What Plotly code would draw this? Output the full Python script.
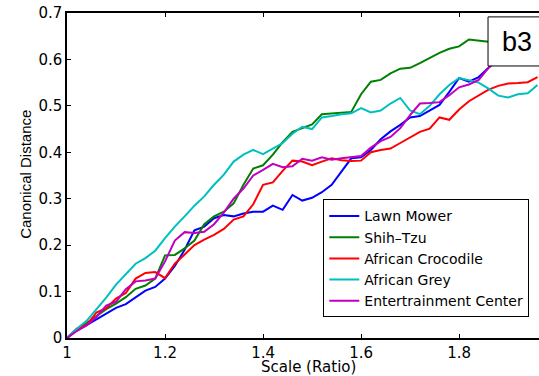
import plotly.graph_objects as go

scale = [round(1.0 + 0.02 * i, 2) for i in range(49)]

lawn_mower = [0, 0.017, 0.028, 0.04, 0.052, 0.065, 0.073, 0.087, 0.102, 0.11,
              0.128, 0.155, 0.19, 0.232, 0.24, 0.258, 0.265, 0.262, 0.268, 0.272,
              0.272, 0.285, 0.276, 0.308, 0.296, 0.302, 0.314, 0.33, 0.358, 0.387,
              0.389, 0.405, 0.428, 0.445, 0.459, 0.475, 0.478, 0.49, 0.502, 0.53,
              0.56, 0.552, 0.562, 0.582, 0.6, 0.61, 0.62, 0.625, 0.63]
shih_tzu = [0, 0.018, 0.032, 0.048, 0.062, 0.074, 0.088, 0.106, 0.113, 0.128,
            0.178, 0.179, 0.193, 0.21, 0.245, 0.262, 0.272, 0.29, 0.33, 0.365,
            0.372, 0.395, 0.422, 0.444, 0.452, 0.46, 0.482, 0.484, 0.486, 0.487,
            0.525, 0.552, 0.556, 0.57, 0.58, 0.582, 0.592, 0.603, 0.614, 0.623,
            0.628, 0.643, 0.641, 0.638, 0.64, 0.645, 0.65, 0.655, 0.66]
african_crocodile = [0, 0.02, 0.028, 0.055, 0.064, 0.085, 0.097, 0.128, 0.14, 0.142,
                     0.129, 0.16, 0.18, 0.2, 0.212, 0.222, 0.235, 0.255, 0.262, 0.288,
                     0.33, 0.335, 0.36, 0.382, 0.38, 0.372, 0.38, 0.387, 0.383, 0.381,
                     0.382, 0.4, 0.405, 0.408, 0.42, 0.432, 0.444, 0.451, 0.475, 0.47,
                     0.492, 0.51, 0.523, 0.535, 0.543, 0.548, 0.549, 0.551, 0.562]
african_grey = [0, 0.02, 0.037, 0.062, 0.087, 0.115, 0.138, 0.16, 0.172, 0.188,
                0.215, 0.24, 0.262, 0.285, 0.305, 0.33, 0.352, 0.38, 0.395, 0.405,
                0.396, 0.408, 0.42, 0.44, 0.455, 0.45, 0.475, 0.478, 0.482, 0.484,
                0.495, 0.486, 0.49, 0.505, 0.517, 0.49, 0.482, 0.5, 0.525, 0.545,
                0.56, 0.555, 0.55, 0.537, 0.522, 0.518, 0.525, 0.527, 0.545]
entertainment_center = [0, 0.015, 0.027, 0.045, 0.07, 0.078, 0.105, 0.122, 0.124, 0.128,
                        0.165, 0.21, 0.228, 0.226, 0.229, 0.245, 0.27, 0.3, 0.322, 0.35,
                        0.362, 0.375, 0.368, 0.37, 0.386, 0.382, 0.389, 0.384, 0.387, 0.39,
                        0.392, 0.41, 0.424, 0.433, 0.452, 0.48, 0.505, 0.506, 0.508, 0.523,
                        0.54, 0.546, 0.556, 0.582, 0.6, 0.61, 0.615, 0.62, 0.625]

series_names = ["Lawn Mower", "Shih\u2013Tzu", "African Crocodile", "African Grey",
                "Entertrainment Center"]
series_values = [lawn_mower, shih_tzu, african_crocodile, african_grey, entertainment_center]
series_colors = ["#0000ff", "#008000", "#ff0000", "#00bfbf", "#bf00bf"]

x_ticks = [1, 1.2, 1.4, 1.6, 1.8]
x_tick_labels = ["1", "1.2", "1.4", "1.6", "1.8"]
y_ticks = [0, 0.1, 0.2, 0.3, 0.4, 0.5, 0.6, 0.7]
y_tick_labels = ["0", "0.1", "0.2", "0.3", "0.4", "0.5", "0.6", "0.7"]

WIDE = "DejaVu Sans, Verdana, sans-serif"
NARROW = "Liberation Sans, Arial, Helvetica, sans-serif"

fig = go.Figure()
for name, vals, col in zip(series_names, series_values, series_colors):
    fig.add_trace(go.Scatter(x=scale, y=vals, mode="lines", name=name,
                             line=dict(color=col, width=2)))

fig.update_layout(
    width=539, height=376,
    margin=dict(l=67, r=0, t=13, b=38, autoexpand=False),
    paper_bgcolor="white", plot_bgcolor="white",
    font=dict(family=WIDE, size=14, color="black"),
    showlegend=True,
    legend=dict(x=0.543, y=0.245, xanchor="left", yanchor="middle",
                bgcolor="white", bordercolor="black", borderwidth=1,
                font=dict(family=WIDE, size=14, color="black"),
                tracegroupgap=0),
)
fig.update_xaxes(range=[1, 1.963], tickvals=x_ticks, ticktext=x_tick_labels,
                 automargin=False, ticklabeloverflow="allow",
                 showgrid=False, zeroline=False, showline=True, linecolor="black",
                 linewidth=1.5, mirror="allticks", ticks="inside", ticklen=4,
                 tickcolor="black", tickfont=dict(family=WIDE, size=15))
fig.update_yaxes(range=[0, 0.7], tickvals=y_ticks, ticktext=y_tick_labels,
                 automargin=False, ticklabeloverflow="allow",
                 showgrid=False, zeroline=False, showline=True, linecolor="black",
                 linewidth=1.5, ticks="inside", ticklen=4, tickcolor="black",
                 tickfont=dict(family=WIDE, size=15))

# axis titles
fig.add_annotation(text="Scale (Ratio)", xref="paper", yref="paper",
                   x=0.5106, y=-0.089, xanchor="center", yanchor="middle",
                   showarrow=False, font=dict(family=WIDE, size=15, color="black"))
fig.add_annotation(text="Canonical Distance", xref="paper", yref="paper",
                   x=-0.0869, y=0.505, xanchor="center", yanchor="middle",
                   textangle=-90, showarrow=False,
                   font=dict(family=NARROW, size=15, color="black"))

# panel label box
fig.add_shape(type="rect", xref="paper", yref="paper",
              x0=0.892, x1=1.03, y0=0.837, y1=0.988,
              line=dict(color="black", width=1), fillcolor="white", layer="above")
fig.add_annotation(text="b3", xref="paper", yref="paper", x=0.953, y=0.911,
                   xanchor="center", yanchor="middle", showarrow=False,
                   font=dict(family=NARROW, size=27, color="black"))

# remove the browser's default 8px body margin so the figure sits at the page origin
fig.write_html("out.html", config={"displayModeBar": False},
               post_script="document.body.style.margin='0';")
